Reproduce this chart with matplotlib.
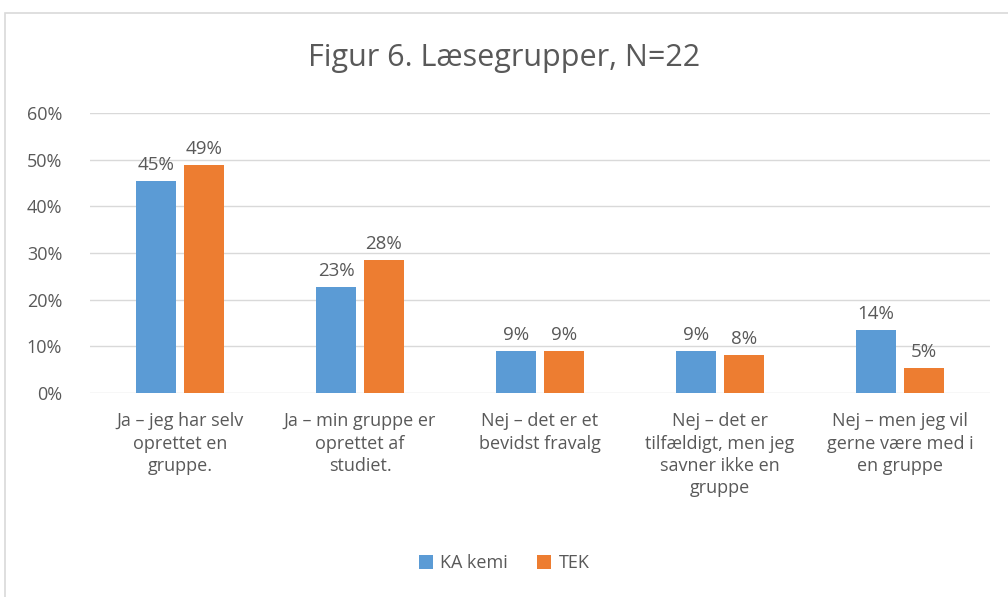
import numpy as np
import matplotlib.pyplot as plt
from matplotlib.patches import Rectangle

kategorier = ["Ja – jeg har selv\noprettet en\ngruppe.",
              "Ja – min gruppe er\noprettet af\nstudiet.",
              "Nej – det er et\nbevidst fravalg",
              "Nej – det er\ntilfældigt, men jeg\nsavner ikke en\ngruppe",
              "Nej – men jeg vil\ngerne være med i\nen gruppe"]
ka_kemi = [45.4, 22.7, 9.1, 9.1, 13.6]
tek = [48.9, 28.5, 8.9, 8.2, 5.4]
yticks = [0, 10, 20, 30, 40, 50, 60]

plt.rcParams["font.family"] = ["Open Sans", "DejaVu Sans"]
tekst = "#595959"

fig = plt.figure(figsize=(10.08, 5.97), dpi=100)
ax = fig.add_axes([90 / 1008, 1 - 393 / 597, 900 / 1008, 280 / 597])

# ramme om diagrammet
fig.patches.append(Rectangle((5 / 1008, -0.05), 1.1, 1 - 13 / 597 + 0.05,
                             transform=fig.transFigure, fill=False,
                             edgecolor="#D9D9D9", linewidth=1.2))

x = np.arange(len(kategorier))
b = 0.225
g = 0.04
s1 = ax.bar(x - b / 2 - g / 2, ka_kemi, b, color="#5B9BD5", label="KA kemi", zorder=3)
s2 = ax.bar(x + b / 2 + g / 2, tek, b, color="#ED7D31", label="TEK", zorder=3)

for bars, vals in ((s1, ka_kemi), (s2, tek)):
    for r, v in zip(bars, vals):
        ax.text(r.get_x() + r.get_width() / 2, v + 1.5, f"{round(v)}%",
                ha="center", va="bottom", fontsize=13.5, color=tekst)

ax.set_xlim(-0.5, len(kategorier) - 0.5)
ax.set_ylim(0, 60)
ax.set_yticks(yticks)
ax.set_yticklabels([f"{t}%" for t in yticks], fontsize=13, color=tekst)
ax.set_xticks(x)
ax.set_xticklabels(kategorier, fontsize=13, color=tekst, linespacing=1.3, va="top")
ax.tick_params(length=0, pad=14)
ax.tick_params(axis="y", pad=20)
ax.grid(axis="y", color="#D9D9D9", linewidth=1, zorder=0)
for sp in ax.spines.values():
    sp.set_visible(False)

fig.text(0.5, 1 - 58 / 597, "Figur 6. Læsegrupper, N=22", ha="center", va="center",
         fontsize=22, color=tekst)
fig.legend(handles=[s1, s2], loc="center", bbox_to_anchor=(0.5, 1 - 563 / 597),
           ncol=2, frameon=False, fontsize=13, handlelength=0.8, handleheight=0.8,
           columnspacing=1.6, handletextpad=0.4, labelcolor=tekst)

fig.savefig("out.png", dpi=100)
plt.close()
